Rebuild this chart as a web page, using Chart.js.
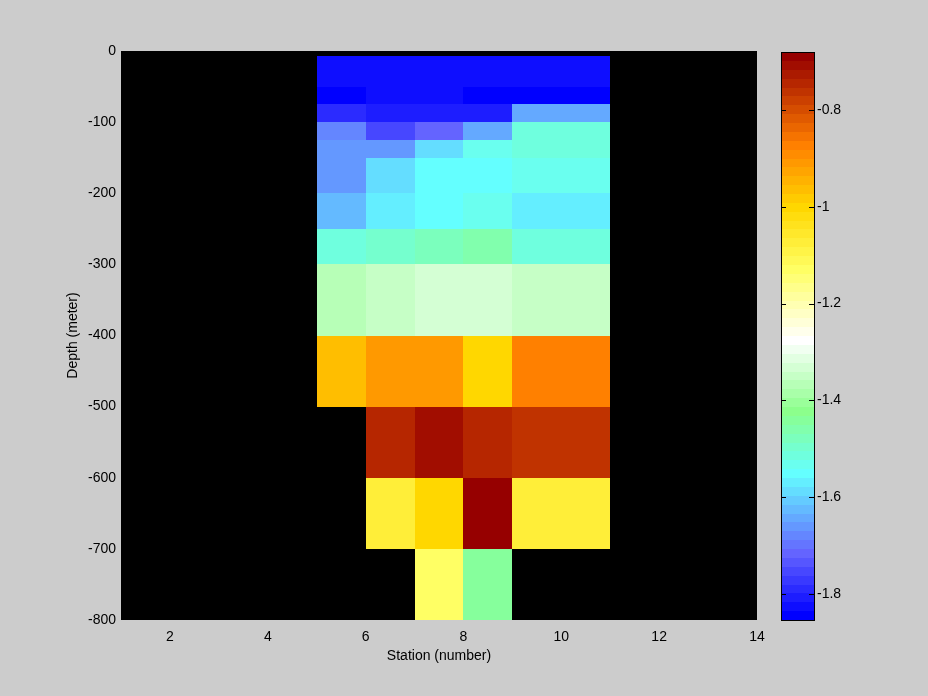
<!DOCTYPE html>
<html>
<head>
<meta charset="utf-8">
<script src="https://cdn.jsdelivr.net/npm/chart.js@4.4.1/dist/chart.umd.min.js"></script>
<style>
html, body { margin: 0; padding: 0; background: #cccccc; }
#wrap { position: relative; width: 928px; height: 696px; overflow: hidden; }
#main { position: absolute; left: 0; top: 0; }
#cbar { position: absolute; left: 760px; top: 0; }
</style>
</head>
<body>
<div id="wrap">
<canvas id="main" width="928" height="696"></canvas>
<canvas id="cbar" width="168" height="696"></canvas>
</div>
<script>
var stationEdges = [5, 6, 7, 8, 9, 11];
var depthEdges = [-7, -50, -75, -100, -125, -150, -200, -250, -300, -400, -500, -600, -700, -800];
// one row per depth layer, one value per station column (null = no data)
var tempRows = [
    [-1.83, -1.83, -1.83, -1.83, -1.83],
    [-1.85, -1.83, -1.83, -1.85, -1.85],
    [-1.79, -1.81, -1.81, -1.81, -1.64],
    [-1.68, -1.75, -1.72, -1.64, -1.52],
    [-1.66, -1.66, -1.59, -1.53, -1.52],
    [-1.66, -1.59, -1.55, -1.55, -1.53],
    [-1.62, -1.57, -1.55, -1.53, -1.57],
    [-1.52, -1.50, -1.48, -1.46, -1.52],
    [-1.37, -1.35, -1.33, -1.33, -1.35],
    [-0.96, -0.91, -0.91, -1.00, -0.87],
    [null, -0.74, -0.71, -0.74, -0.76],
    [null, -1.07, -1.00, -0.69, -1.07],
    [null, null, -1.13, -1.44, null]
];
var xTicks = [2, 4, 6, 8, 10, 12, 14];
var yTicks = [0, -100, -200, -300, -400, -500, -600, -700, -800];
var cbTicks = [-1.8, -1.6, -1.4, -1.2, -1, -0.8];
var cMin = -1.854, cMax = -0.68, nColors = 64;

// colormap anchors (index in 0..63 -> rgb)
var cmapIdx = [0, 7, 16, 23, 31, 39, 46, 53, 63];
var cmapRGB = [
    [0, 0, 255], [100, 100, 255], [100, 255, 255], [140, 255, 140],
    [255, 255, 255], [255, 255, 100], [255, 215, 0], [255, 128, 0], [150, 0, 0]
];

function cmapColor(i) {
    for (var k = 0; k < cmapIdx.length - 1; k++) {
        if (i <= cmapIdx[k + 1]) {
            var t = (i - cmapIdx[k]) / (cmapIdx[k + 1] - cmapIdx[k]);
            var a = cmapRGB[k], b = cmapRGB[k + 1];
            return 'rgb(' + Math.round(a[0] + (b[0] - a[0]) * t) + ',' +
                Math.round(a[1] + (b[1] - a[1]) * t) + ',' +
                Math.round(a[2] + (b[2] - a[2]) * t) + ')';
        }
    }
    return 'rgb(150,0,0)';
}

function colorFor(v) {
    var i = Math.floor((v - cMin) / (cMax - cMin) * nColors);
    i = Math.max(0, Math.min(nColors - 1, i));
    return cmapColor(i);
}

Chart.defaults.font.family = '"Liberation Sans", Arial, Helvetica, sans-serif';
Chart.defaults.font.size = 14;
Chart.defaults.color = '#000';

var cellPlugin = {
    id: 'cells',
    beforeDatasetsDraw: function(chart) {
        var ctx = chart.ctx, a = chart.chartArea;
        var xs = chart.scales.x, ys = chart.scales.y;
        ctx.save();
        ctx.fillStyle = '#000';
        ctx.fillRect(a.left, a.top, a.right - a.left, a.bottom - a.top);
        for (var r = 0; r < tempRows.length; r++) {
            var y0 = ys.getPixelForValue(depthEdges[r]);
            var y1 = ys.getPixelForValue(depthEdges[r + 1]);
            for (var c = 0; c < tempRows[r].length; c++) {
                var v = tempRows[r][c];
                if (v === null) continue;
                var x0 = xs.getPixelForValue(stationEdges[c]);
                var x1 = xs.getPixelForValue(stationEdges[c + 1]);
                ctx.fillStyle = colorFor(v);
                ctx.fillRect(Math.round(x0), Math.round(y0), Math.round(x1) - Math.round(x0), Math.round(y1) - Math.round(y0));
            }
        }
        ctx.restore();
    }
};

new Chart(document.getElementById('main'), {
    type: 'scatter',
    data: { datasets: [{ data: [] }] },
    options: {
        responsive: false,
        animation: false,
        devicePixelRatio: 1,
        layout: { padding: { left: 0, top: 51, right: 171, bottom: 0 } },
        plugins: { legend: { display: false }, tooltip: { enabled: false } },
        scales: {
            x: {
                type: 'linear', min: 1, max: 14,
                grid: { display: false, drawTicks: false },
                border: { display: false },
                afterBuildTicks: function(s) { s.ticks = xTicks.map(function(v) { return { value: v }; }); },
                afterFit: function(s) { s.height = 76; },
                ticks: { padding: 9, maxRotation: 0, autoSkip: false, callback: function(v) { return String(v); } },
                title: { display: true, text: 'Station (number)', padding: { top: 0, bottom: 31 } }
            },
            y: {
                type: 'linear', min: -800, max: 0,
                grid: { display: false, drawTicks: false },
                border: { display: false },
                afterBuildTicks: function(s) { s.ticks = yTicks.map(function(v) { return { value: v }; }); },
                afterFit: function(s) { s.width = 121; },
                ticks: { padding: 5, autoSkip: false, callback: function(v) { return String(v); } },
                title: { display: true, text: 'Depth (meter)', padding: { top: 65, bottom: 0 } }
            }
        }
    },
    plugins: [cellPlugin]
});

var barPlugin = {
    id: 'cbarBands',
    beforeDatasetsDraw: function(chart) {
        var ctx = chart.ctx, a = chart.chartArea, ys = chart.scales.y;
        ctx.save();
        var step = (cMax - cMin) / nColors;
        for (var i = 0; i < nColors; i++) {
            var y0 = Math.round(ys.getPixelForValue(cMin + i * step));
            var y1 = Math.round(ys.getPixelForValue(cMin + (i + 1) * step));
            ctx.fillStyle = cmapColor(i);
            ctx.fillRect(a.left, y1, a.right - a.left, y0 - y1);
        }
        ctx.restore();
    },
    afterDraw: function(chart) {
        var ctx = chart.ctx, a = chart.chartArea, ys = chart.scales.y;
        ctx.save();
        ctx.strokeStyle = '#000';
        ctx.lineWidth = 1;
        ctx.strokeRect(Math.round(a.left) + 0.5, Math.round(a.top) + 0.5, Math.round(a.right - a.left), Math.round(a.bottom - a.top));
        ctx.beginPath();
        cbTicks.forEach(function(t) {
            var y = Math.round(ys.getPixelForValue(t)) + 0.5;
            ctx.moveTo(a.left, y); ctx.lineTo(a.left + 5, y);
            ctx.moveTo(a.right - 5, y); ctx.lineTo(a.right, y);
        });
        ctx.stroke();
        ctx.restore();
    }
};

new Chart(document.getElementById('cbar'), {
    type: 'scatter',
    data: { datasets: [{ data: [] }] },
    options: {
        responsive: false,
        animation: false,
        devicePixelRatio: 1,
        layout: { padding: { left: 21, top: 52, right: 0, bottom: 76 } },
        plugins: { legend: { display: false }, tooltip: { enabled: false } },
        scales: {
            x: { type: 'linear', display: false, min: 0, max: 1 },
            y: {
                type: 'linear', position: 'right', min: cMin, max: cMax,
                grid: { display: false, drawTicks: false },
                border: { display: false },
                afterBuildTicks: function(s) { s.ticks = cbTicks.map(function(v) { return { value: v }; }); },
                afterFit: function(s) { s.width = 114; },
                ticks: { padding: 3, autoSkip: false, callback: function(v) { return String(v); } }
            }
        }
    },
    plugins: [barPlugin]
});
</script>
</body>
</html>
